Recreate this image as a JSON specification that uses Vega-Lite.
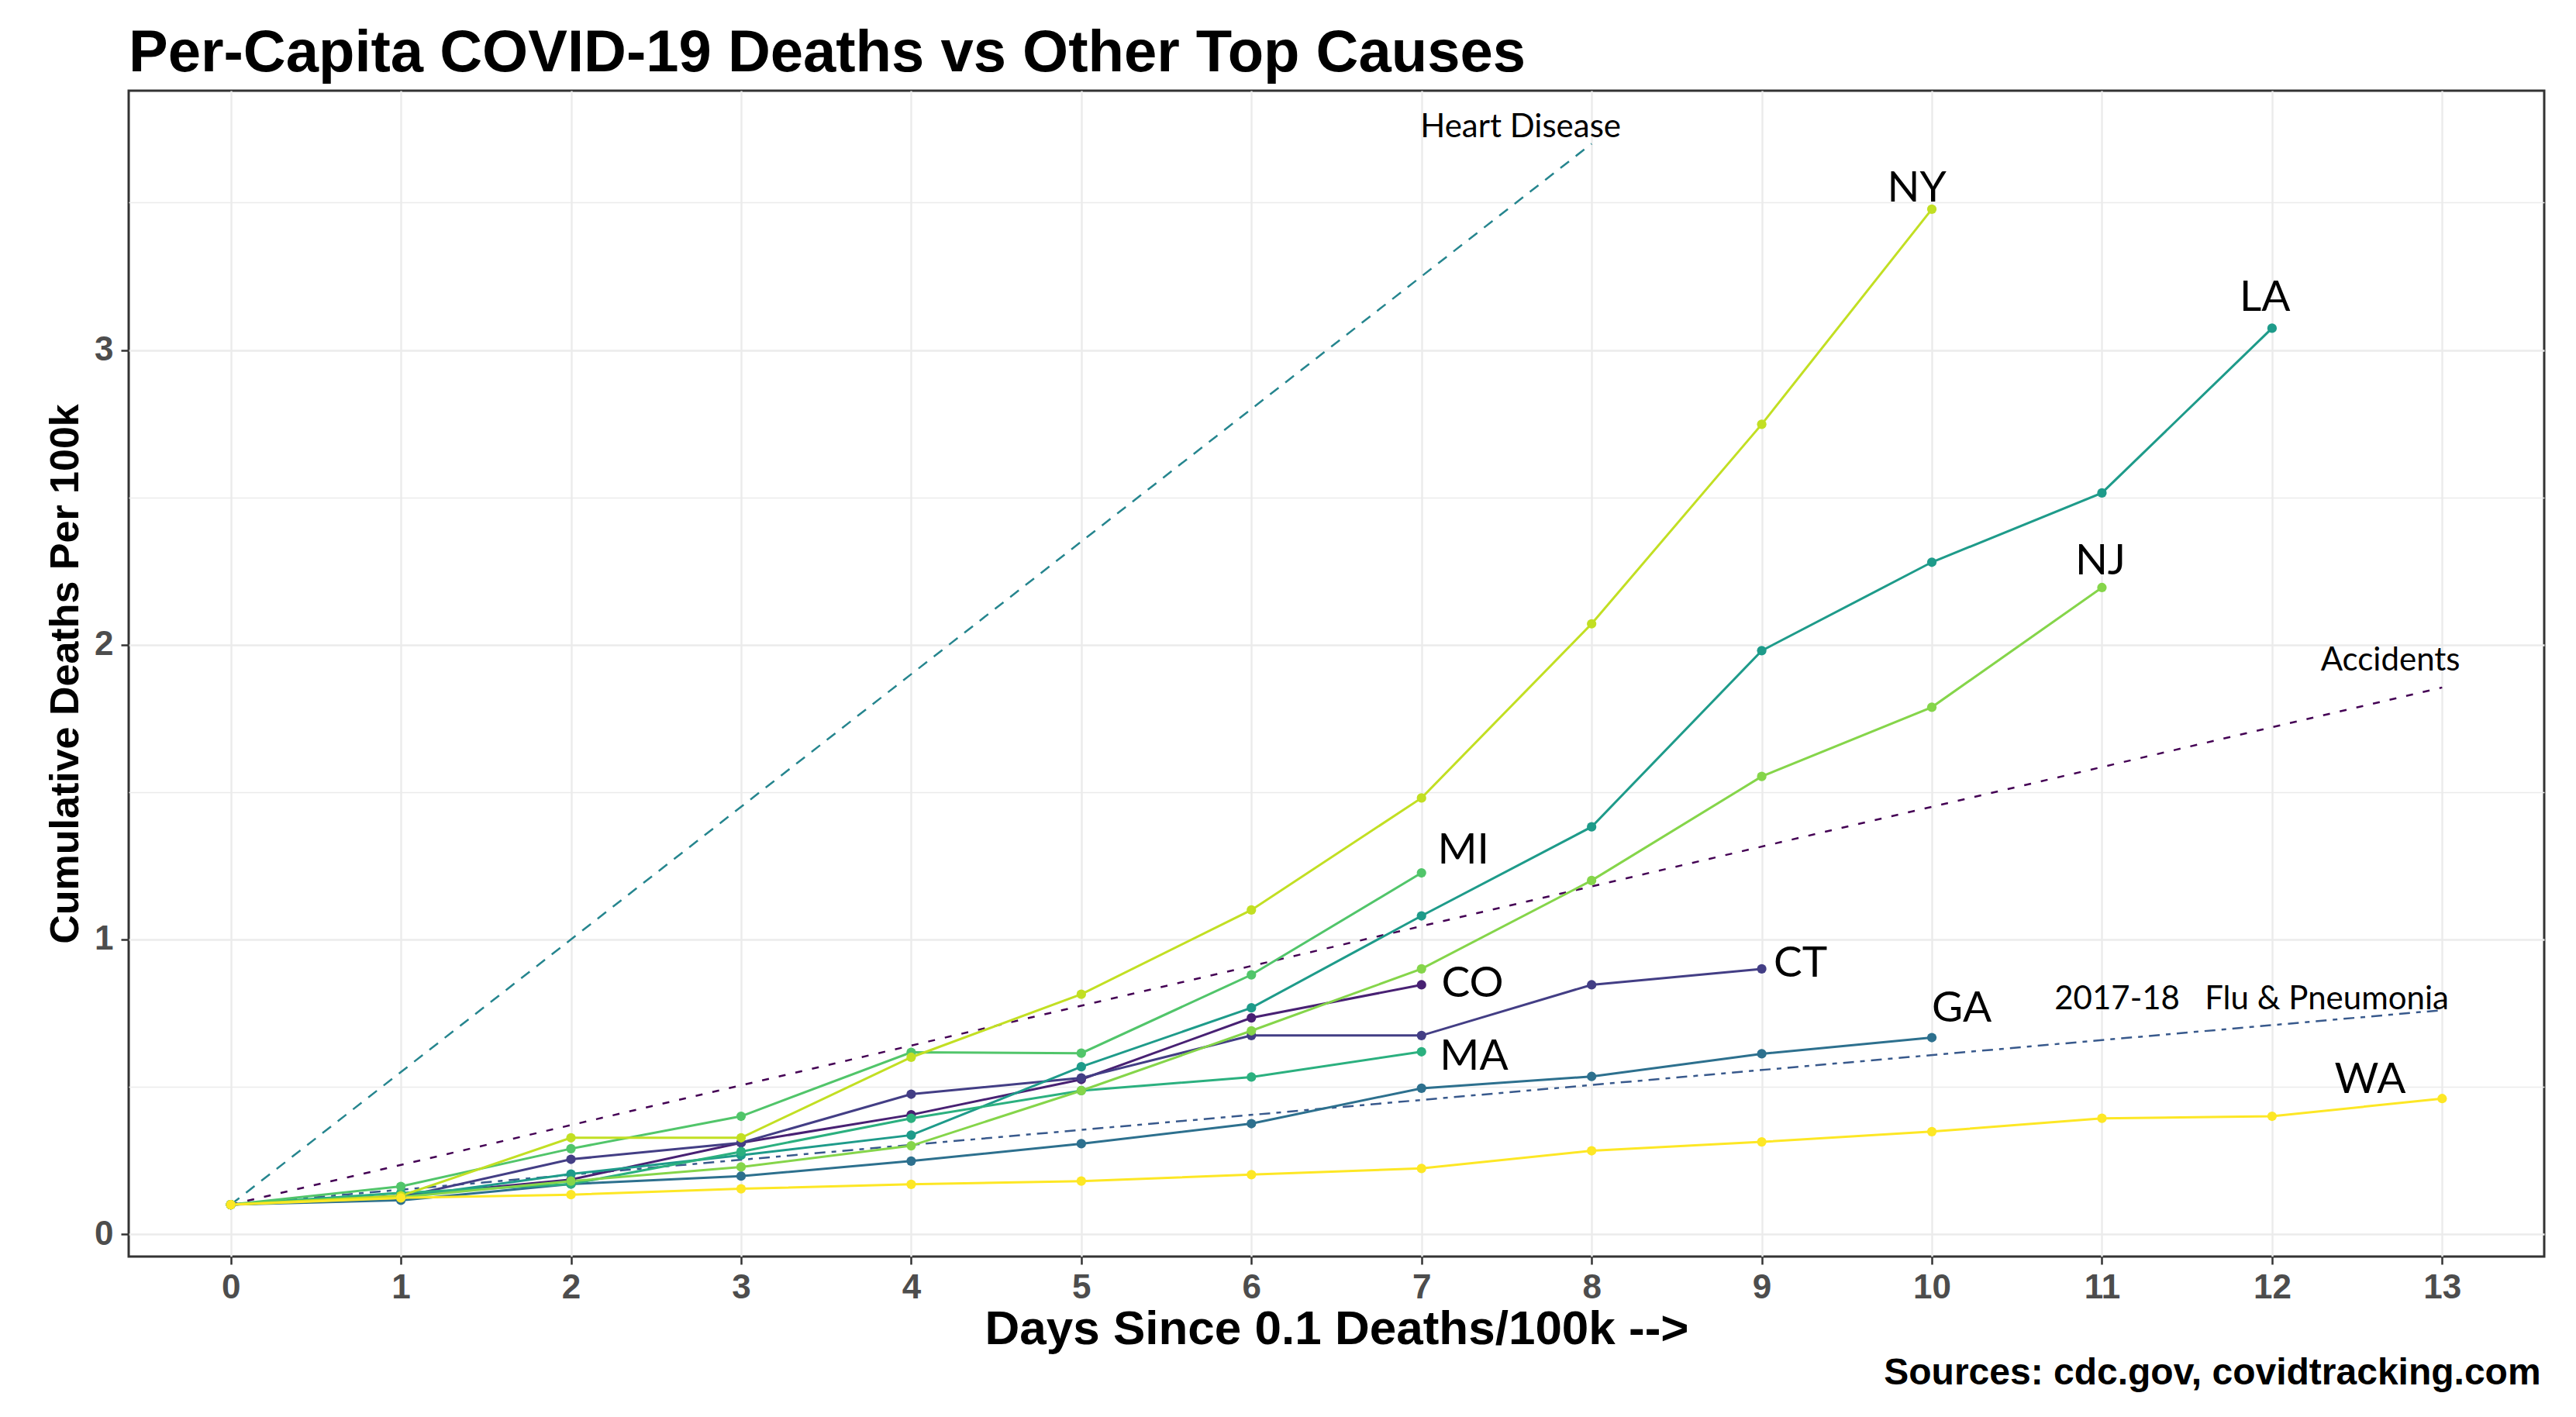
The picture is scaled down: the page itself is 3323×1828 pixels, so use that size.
{
  "$schema": "https://vega.github.io/schema/vega-lite/v6.json",
  "width": 3116,
  "height": 1504,
  "autosize": {"type": "none"},
  "padding": {"left": 166, "top": 117, "right": 41, "bottom": 207},
  "background": "white",
  "config": {
    "view": {"stroke": "#333333", "strokeWidth": 3},
    "font": "Liberation Sans"
  },
  "title": {
    "text": "Per-Capita COVID-19 Deaths vs Other Top Causes",
    "font": "Liberation Sans",
    "fontWeight": "bold",
    "fontSize": 76,
    "color": "black",
    "anchor": "start",
    "frame": "group",
    "baseline": "alphabetic",
    "offset": 28,
    "dy": 79
  },
  "datasets": {
    "states": [
      {"series": "CO", "day": 0, "value": 0.1}, {"series": "CO", "day": 1, "value": 0.13}, {"series": "CO", "day": 2, "value": 0.185}, {"series": "CO", "day": 3, "value": 0.31}, {"series": "CO", "day": 4, "value": 0.405}, {"series": "CO", "day": 5, "value": 0.525}, {"series": "CO", "day": 6, "value": 0.734}, {"series": "CO", "day": 7, "value": 0.846},
      {"series": "CT", "day": 0, "value": 0.1}, {"series": "CT", "day": 1, "value": 0.125}, {"series": "CT", "day": 2, "value": 0.254}, {"series": "CT", "day": 3, "value": 0.31}, {"series": "CT", "day": 4, "value": 0.475}, {"series": "CT", "day": 5, "value": 0.53}, {"series": "CT", "day": 6, "value": 0.674}, {"series": "CT", "day": 7, "value": 0.674}, {"series": "CT", "day": 8, "value": 0.846}, {"series": "CT", "day": 9, "value": 0.9},
      {"series": "GA", "day": 0, "value": 0.1}, {"series": "GA", "day": 1, "value": 0.115}, {"series": "GA", "day": 2, "value": 0.17}, {"series": "GA", "day": 3, "value": 0.197}, {"series": "GA", "day": 4, "value": 0.248}, {"series": "GA", "day": 5, "value": 0.307}, {"series": "GA", "day": 6, "value": 0.375}, {"series": "GA", "day": 7, "value": 0.495}, {"series": "GA", "day": 8, "value": 0.535}, {"series": "GA", "day": 9, "value": 0.612}, {"series": "GA", "day": 10, "value": 0.667},
      {"series": "LA", "day": 0, "value": 0.1}, {"series": "LA", "day": 1, "value": 0.125}, {"series": "LA", "day": 2, "value": 0.204}, {"series": "LA", "day": 3, "value": 0.268}, {"series": "LA", "day": 4, "value": 0.336}, {"series": "LA", "day": 5, "value": 0.568}, {"series": "LA", "day": 6, "value": 0.768}, {"series": "LA", "day": 7, "value": 1.08}, {"series": "LA", "day": 8, "value": 1.382}, {"series": "LA", "day": 9, "value": 1.98}, {"series": "LA", "day": 10, "value": 2.28}, {"series": "LA", "day": 11, "value": 2.515}, {"series": "LA", "day": 12, "value": 3.074},
      {"series": "MA", "day": 0, "value": 0.1}, {"series": "MA", "day": 1, "value": 0.14}, {"series": "MA", "day": 2, "value": 0.17}, {"series": "MA", "day": 3, "value": 0.28}, {"series": "MA", "day": 4, "value": 0.393}, {"series": "MA", "day": 5, "value": 0.487}, {"series": "MA", "day": 6, "value": 0.533}, {"series": "MA", "day": 7, "value": 0.619},
      {"series": "MI", "day": 0, "value": 0.1}, {"series": "MI", "day": 1, "value": 0.162}, {"series": "MI", "day": 2, "value": 0.29}, {"series": "MI", "day": 3, "value": 0.4}, {"series": "MI", "day": 4, "value": 0.617}, {"series": "MI", "day": 5, "value": 0.614}, {"series": "MI", "day": 6, "value": 0.88}, {"series": "MI", "day": 7, "value": 1.226},
      {"series": "NJ", "day": 0, "value": 0.1}, {"series": "NJ", "day": 1, "value": 0.125}, {"series": "NJ", "day": 2, "value": 0.18}, {"series": "NJ", "day": 3, "value": 0.228}, {"series": "NJ", "day": 4, "value": 0.3}, {"series": "NJ", "day": 5, "value": 0.487}, {"series": "NJ", "day": 6, "value": 0.69}, {"series": "NJ", "day": 7, "value": 0.9}, {"series": "NJ", "day": 8, "value": 1.2}, {"series": "NJ", "day": 9, "value": 1.553}, {"series": "NJ", "day": 10, "value": 1.788}, {"series": "NJ", "day": 11, "value": 2.194},
      {"series": "NY", "day": 0, "value": 0.1}, {"series": "NY", "day": 1, "value": 0.13}, {"series": "NY", "day": 2, "value": 0.327}, {"series": "NY", "day": 3, "value": 0.327}, {"series": "NY", "day": 4, "value": 0.6}, {"series": "NY", "day": 5, "value": 0.814}, {"series": "NY", "day": 6, "value": 1.1}, {"series": "NY", "day": 7, "value": 1.48}, {"series": "NY", "day": 8, "value": 2.071}, {"series": "NY", "day": 9, "value": 2.748}, {"series": "NY", "day": 10, "value": 3.478},
      {"series": "WA", "day": 0, "value": 0.1}, {"series": "WA", "day": 1, "value": 0.123}, {"series": "WA", "day": 2, "value": 0.134}, {"series": "WA", "day": 3, "value": 0.154}, {"series": "WA", "day": 4, "value": 0.169}, {"series": "WA", "day": 5, "value": 0.18}, {"series": "WA", "day": 6, "value": 0.202}, {"series": "WA", "day": 7, "value": 0.223}, {"series": "WA", "day": 8, "value": 0.283}, {"series": "WA", "day": 9, "value": 0.313}, {"series": "WA", "day": 10, "value": 0.348}, {"series": "WA", "day": 11, "value": 0.393}, {"series": "WA", "day": 12, "value": 0.4}, {"series": "WA", "day": 13, "value": 0.46}
    ],
    "refs": [
      {"series": "Accidents", "day": 0, "value": 0.1}, {"series": "Accidents", "day": 13, "value": 1.855},
      {"series": "Flu", "day": 0, "value": 0.1}, {"series": "Flu", "day": 13, "value": 0.76},
      {"series": "Heart", "day": 0, "value": 0.1}, {"series": "Heart", "day": 8, "value": 3.7}
    ],
    "labels": [
      {"label": "NY", "kind": "state", "day": 9.912, "value": 3.503},
      {"label": "LA", "kind": "state", "day": 11.958, "value": 3.134},
      {"label": "NJ", "kind": "state", "day": 10.991, "value": 2.239},
      {"label": "MI", "kind": "state", "day": 7.246, "value": 1.258},
      {"label": "CO", "kind": "state", "day": 7.3, "value": 0.805},
      {"label": "MA", "kind": "state", "day": 7.309, "value": 0.558},
      {"label": "CT", "kind": "state", "day": 9.228, "value": 0.874},
      {"label": "GA", "kind": "state", "day": 10.176, "value": 0.721},
      {"label": "WA", "kind": "state", "day": 12.577, "value": 0.479},
      {"label": "Heart Disease", "kind": "cause", "day": 7.583, "value": 3.721},
      {"label": "Accidents", "kind": "cause", "day": 12.696, "value": 1.913},
      {"label": "2017-18\u00a0\u00a0\u00a0Flu & Pneumonia", "kind": "cause", "day": 11.88, "value": 0.763}
    ],
    "caption": [
      {"text": "Sources: cdc.gov, covidtracking.com", "day": 13.58, "value": -0.51}
    ]
  },
  "layer": [
    {
      "data": {"name": "refs"},
      "mark": {"type": "line", "strokeWidth": 2.5},
      "encoding": {
        "x": {
          "field": "day", "type": "quantitative",
          "scale": {"domain": [-0.6, 13.6], "nice": false, "zero": false},
          "axis": {
            "values": [0, 1, 2, 3, 4, 5, 6, 7, 8, 9, 10, 11, 12, 13],
            "format": "d",
            "title": "Days Since 0.1 Deaths/100k -->",
            "titleFont": "Liberation Sans", "titleFontWeight": "bold", "titleFontSize": 62, "titleColor": "black",
            "titleBaseline": "alphabetic", "titleY": 112,
            "labelFont": "Liberation Sans", "labelFontWeight": "bold", "labelFontSize": 44, "labelColor": "#4D4D4D",
            "labelPadding": 8, "labelFlush": false,
            "tickColor": "#333333", "tickSize": 10, "tickWidth": 2.5,
            "domain": false,
            "grid": true, "gridColor": "#EBEBEB", "gridWidth": 2.4
          }
        },
        "y": {
          "field": "value", "type": "quantitative",
          "scale": {"domain": [-0.076, 3.88], "nice": false, "zero": false},
          "axis": {
            "values": [0, 0.5, 1, 1.5, 2, 2.5, 3, 3.5],
            "labelExpr": "datum.value % 1 === 0 ? format(datum.value, 'd') : ''",
            "title": "Cumulative Deaths Per 100k",
            "titleFont": "Liberation Sans", "titleFontWeight": "bold", "titleFontSize": 52, "titleColor": "black",
            "titleAngle": 270, "titleBaseline": "alphabetic", "titleAlign": "center", "titleX": -66, "titleY": 752,
            "labelFont": "Liberation Sans", "labelFontWeight": "bold", "labelFontSize": 44, "labelColor": "#4D4D4D",
            "labelPadding": 10, "labelFlush": false,
            "tickColor": "#333333", "tickSize": 10, "tickWidth": 2.5,
            "tickOpacity": {"condition": {"test": "datum.value % 1 !== 0", "value": 0}, "value": 1},
            "domain": false,
            "grid": true, "gridColor": "#EBEBEB",
            "gridWidth": {"condition": {"test": "datum.value % 1 !== 0", "value": 1.3}, "value": 2.4}
          }
        },
        "color": {
          "field": "series", "type": "nominal",
          "scale": {
            "domain": ["Accidents", "CO", "CT", "Flu", "GA", "Heart", "LA", "MA", "MI", "NJ", "NY", "WA"],
            "range": ["#440154", "#482173", "#433E85", "#38598C", "#2D708E", "#25858E", "#1E9B8A", "#2BB07F", "#51C56A", "#85D54A", "#C2DF23", "#FDE725"]
          },
          "legend": null
        },
        "strokeDash": {
          "field": "series", "type": "nominal",
          "scale": {"domain": ["Accidents", "Flu", "Heart"], "range": [[9, 13], [14, 8, 6, 8], [14, 11]]},
          "legend": null
        }
      }
    },
    {
      "data": {"name": "states"},
      "mark": {"type": "line", "strokeWidth": 3},
      "encoding": {
        "x": {"field": "day", "type": "quantitative"},
        "y": {"field": "value", "type": "quantitative"},
        "color": {"field": "series", "type": "nominal", "legend": null}
      }
    },
    {
      "data": {"name": "states"},
      "mark": {"type": "circle", "size": 150, "opacity": 1},
      "encoding": {
        "x": {"field": "day", "type": "quantitative"},
        "y": {"field": "value", "type": "quantitative"},
        "color": {"field": "series", "type": "nominal", "legend": null}
      }
    },
    {
      "data": {"name": "labels"},
      "transform": [{"filter": "datum.kind === 'state'"}],
      "mark": {"type": "text", "font": "Lato", "fontSize": 55, "color": "black", "align": "center", "baseline": "alphabetic"},
      "encoding": {
        "x": {"field": "day", "type": "quantitative"},
        "y": {"field": "value", "type": "quantitative"},
        "text": {"field": "label"}
      }
    },
    {
      "data": {"name": "labels"},
      "transform": [{"filter": "datum.kind === 'cause'"}],
      "mark": {"type": "text", "font": "Lato", "fontSize": 42, "color": "black", "align": "center", "baseline": "alphabetic"},
      "encoding": {
        "x": {"field": "day", "type": "quantitative"},
        "y": {"field": "value", "type": "quantitative"},
        "text": {"field": "label"}
      }
    },
    {
      "data": {"name": "caption"},
      "mark": {"type": "text", "font": "Liberation Sans", "fontWeight": "bold", "fontSize": 48, "color": "black", "align": "right", "baseline": "alphabetic", "clip": false},
      "encoding": {
        "x": {"field": "day", "type": "quantitative"},
        "y": {"field": "value", "type": "quantitative"},
        "text": {"field": "text"}
      }
    }
  ]
}
